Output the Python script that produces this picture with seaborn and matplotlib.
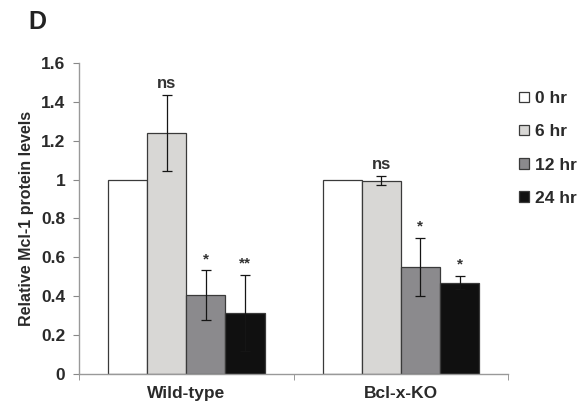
import numpy as np
import pandas as pd
import seaborn as sns
import matplotlib.pyplot as plt
from matplotlib.ticker import FixedLocator

# values
groups = ['Wild-type', 'Bcl-x-KO']
timepoints = ['0 hr', '6 hr', '12 hr', '24 hr']
wt_means = [1.0, 1.24, 0.405, 0.315]
wt_errs = [0.0, 0.195, 0.13, 0.195]
ko_means = [1.0, 0.995, 0.55, 0.47]
ko_errs = [0.0, 0.025, 0.15, 0.035]
wt_marks = ['', 'ns', '*', '**']
ko_marks = ['', 'ns', '*', '*']
bar_colors = ['#ffffff', '#d8d7d5', '#8b8a8d', '#101010']

df = pd.DataFrame({
    'group': np.repeat(groups, len(timepoints)),
    'time': timepoints * len(groups),
    'mean': wt_means + ko_means,
    'err': wt_errs + ko_errs,
    'mark': wt_marks + ko_marks,
})

sns.set_style('white')
plt.rcParams['font.family'] = ['Liberation Sans', 'DejaVu Sans']
plt.rcParams['font.weight'] = 'bold'

fig = plt.figure(figsize=(5.86, 4.09), dpi=100)
ax = fig.add_axes([0.135, 0.086, 0.732, 0.76])

sns.barplot(data=df, x='group', y='mean', hue='time', order=groups,
            hue_order=timepoints, palette=bar_colors, width=0.73,
            edgecolor='#3a3a3a', linewidth=0.9, errorbar=None, ax=ax,
            saturation=1)

# error bars and significance marks on top of each bar
for i, t in enumerate(timepoints):
    cont = ax.containers[i]
    for j, g in enumerate(groups):
        bar = cont[j]
        row = df[(df['group'] == g) & (df['time'] == t)].iloc[0]
        xc = bar.get_x() + bar.get_width() / 2
        if row['err'] > 0:
            ax.errorbar(xc, row['mean'], yerr=row['err'], fmt='none',
                        ecolor='#151515', elinewidth=0.9, capsize=3.5,
                        capthick=0.9)
        if row['mark']:
            fs = 12 if row['mark'] == 'ns' else 11
            ax.text(xc, row['mean'] + row['err'] + 0.02, row['mark'],
                    ha='center', va='bottom', fontsize=fs,
                    fontweight='bold', color='#333333')

ax.set_ylim(0, 1.6)
ax.set_xlim(-0.5, 1.5)
ax.set_yticks([0, 0.2, 0.4, 0.6, 0.8, 1.0, 1.2, 1.4, 1.6])
ax.set_yticklabels(['0', '0.2', '0.4', '0.6', '0.8', '1', '1.2', '1.4', '1.6'],
                   fontsize=12.5, fontweight='bold', color='#2a2a2a')
ax.set_xticks([0, 1])
ax.set_xticklabels(groups, fontsize=12.5, fontweight='bold', color='#2a2a2a')
ax.xaxis.set_minor_locator(FixedLocator([-0.5, 0.5, 1.5]))
ax.tick_params(axis='x', which='major', length=0, pad=9)
ax.tick_params(axis='x', which='minor', length=4, color='#888888',
               direction='out', bottom=True)
ax.tick_params(axis='y', length=4, color='#888888', direction='out',
               left=True, pad=6)
ax.set_xlabel('')
ax.set_ylabel('Relative Mcl-1 protein levels', fontsize=11.5,
              fontweight='bold', color='#2a2a2a', labelpad=5)

for side in ['top', 'right']:
    ax.spines[side].set_visible(False)
for side in ['left', 'bottom']:
    ax.spines[side].set_color('#999999')
    ax.spines[side].set_linewidth(1.0)

leg = ax.legend(loc='upper left', bbox_to_anchor=(0.99, 0.96), frameon=False,
                prop={'size': 12.5, 'weight': 'bold'}, handlelength=0.55,
                handleheight=0.55, handletextpad=0.35, labelspacing=1.05)
for txt in leg.get_texts():
    txt.set_color('#2a2a2a')

fig.text(0.048, 0.945, 'D', fontsize=18, fontweight='bold', color='#222222',
         ha='left', va='center')

fig.savefig('out.png', dpi=100, facecolor='white')
